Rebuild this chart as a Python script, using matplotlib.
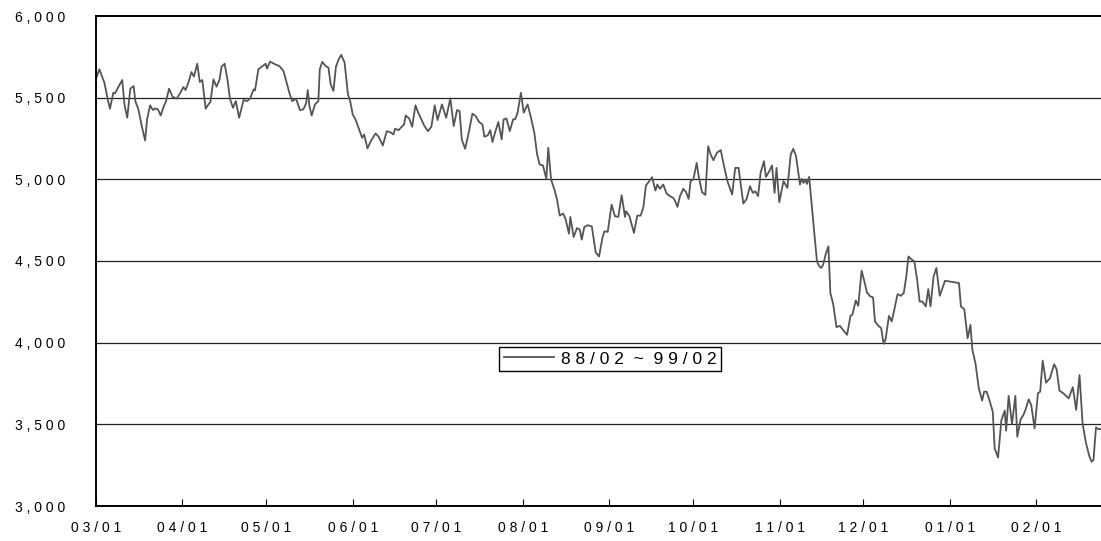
import matplotlib
import matplotlib.pyplot as plt
import pandas as pd

matplotlib.use("Agg")

# day offsets from 03/01 and index values
days = [
    0.0, 1.2, 3.0, 4.2, 5.0, 6.2, 6.8, 8.2, 9.4, 10.2, 11.2, 12.3, 13.5, 14.1, 15.2,
    16.4, 17.6, 18.3, 19.4, 20.4, 21.1, 22.2, 23.2, 24.1, 25.1, 26.2, 27.4, 28.9,
    30.1, 31.3, 32.1, 33.1, 34.2, 35.1, 36.3, 37.2, 38.1, 39.3, 40.3, 41.0, 42.1,
    43.2, 44.3, 45.0, 46.1, 47.2, 48.0, 49.1, 50.1, 51.3, 52.9, 54.1, 55.2, 56.5,
    57.0, 58.2, 59.4, 60.8, 61.3, 62.4, 64.2,
    65.7, 67.2, 68.3, 69.3, 70.3, 71.7, 73.1, 74.3, 75.3, 75.9, 76.5, 77.3, 78.5,
    79.7, 80.2, 81.1, 82.3, 83.3, 84.1, 85.1, 86.0, 87.0, 87.9, 89.1, 90.3, 91.1,
    92.0, 93.0, 94.2, 95.4, 96.1, 97.3, 98.5, 100.2, 101.3, 102.8, 104.2, 105.4,
    106.6, 107.2, 108.4, 109.6, 110.4, 111.0, 112.3, 113.3, 114.5, 115.4, 117.6,
    119.0, 120.2, 121.4, 122.4, 124.0, 125.5,
    127.0, 128.2, 129.4, 130.3, 131.1, 132.3, 133.7, 134.9, 136.1, 137.3, 138.5,
    139.2, 140.4, 141.3, 142.1, 143.0, 144.2, 145.4, 146.1, 147.1, 148.3, 149.5,
    150.2, 151.1, 152.3, 153.3, 154.7, 155.9, 157.1, 158.1, 159.0, 160.2, 161.4,
    162.1, 163.1, 164.3, 165.2, 166.2, 167.4, 168.3, 169.5, 170.0, 171.2, 172.4,
    173.4, 174.1, 175.0, 176.2, 177.7, 179.1, 180.3, 181.5, 182.2, 183.4, 184.8,
    186.0, 187.2, 188.4, 189.6,
    190.0, 191.2, 192.0, 192.8, 194.0, 195.2, 196.2, 197.1, 198.3, 199.3, 200.5,
    201.2, 202.1, 203.3, 204.5, 205.7, 206.9, 207.6, 208.4, 209.3, 210.5, 211.5,
    212.4, 213.1, 214.1, 215.3, 216.0, 217.2, 218.4, 219.4, 220.3, 221.3, 222.5,
    223.9, 225.1, 226.3, 228.0, 229.1, 230.3, 232.0, 233.2, 234.4, 235.4, 236.3,
    237.3, 238.2, 239.4, 240.1, 241.3, 242.3, 243.2, 243.9, 244.9, 246.4, 247.8,
    249.0, 249.9, 250.9, 252.3,
    252.9, 253.6, 254.4, 254.8, 255.6, 256.5, 257.5, 258.4, 259.1, 259.9, 260.6,
    261.5, 262.5, 263.2, 264.2, 265.4, 266.6, 267.7, 269.2, 270.4, 271.1, 272.3,
    273.2, 274.4, 275.6, 276.3, 277.5, 278.5, 279.2, 280.4, 281.4, 282.3, 283.0,
    284.2, 285.2, 286.4, 287.3, 288.5, 289.5, 290.4, 291.2, 292.4, 293.3, 294.3,
    295.2, 296.2, 297.4, 298.3, 299.1, 300.2, 301.2, 302.4, 304.3, 309.3, 310.0,
    311.2, 312.4, 313.4, 314.1,
    315.2, 316.4, 317.6, 318.3, 319.2, 320.2, 321.4, 322.1, 323.3, 324.5, 325.7,
    326.2, 327.1, 328.3, 329.5, 330.2, 331.4, 332.4, 333.1, 334.3, 335.2, 336.4,
    337.6, 338.4, 339.3, 340.5, 341.9, 343.4, 344.3, 345.3, 346.7, 347.9, 348.6,
    350.1, 351.3, 352.5, 353.6, 354.8, 356.0, 356.8, 357.5, 358.4, 359.4, 360.2,
]
values = [
    5616, 5674, 5592, 5490, 5432, 5530, 5526, 5571, 5608, 5459, 5377, 5555, 5571, 5479, 5428,
    5326, 5238, 5367, 5453, 5424, 5434, 5428, 5391, 5438, 5479, 5555, 5506, 5494,
    5526, 5565, 5547, 5592, 5657, 5629, 5708, 5596, 5608, 5432, 5459, 5473, 5612,
    5567, 5612, 5690, 5708, 5602, 5494, 5438, 5479, 5377, 5486, 5479, 5494, 5551,
    5545, 5674, 5690, 5708, 5678, 5721, 5704,
    5694, 5663, 5592, 5530, 5479, 5494, 5424, 5428, 5465, 5547, 5449, 5391, 5459,
    5479, 5674, 5719, 5694, 5684, 5582, 5541, 5690, 5735, 5762, 5714, 5520, 5479,
    5398, 5367, 5310, 5254, 5275, 5189, 5234, 5281, 5261, 5207, 5295, 5289,
    5275, 5310, 5301, 5322, 5336, 5391, 5371, 5322, 5453, 5412, 5330,
    5295, 5322, 5453, 5363, 5459, 5377,
    5496, 5326, 5424, 5418, 5244, 5187, 5295, 5402, 5387, 5351, 5336,
    5261, 5269, 5301, 5228, 5285, 5351, 5244, 5367, 5373, 5295, 5367,
    5367, 5408, 5530, 5408, 5459, 5377, 5285, 5152, 5091, 5085, 5003,
    5193, 4999, 4937, 4880, 4778, 4790, 4757, 4667, 4770, 4647, 4702,
    4692, 4631, 4708, 4719, 4712, 4553, 4528, 4641, 4682, 4678, 4845,
    4774, 4770, 4903, 4770,
    4805, 4774, 4723, 4672, 4778, 4778, 4831, 4962, 4989, 5013, 4931,
    4968, 4942, 4968, 4913, 4897, 4886, 4866, 4831, 4897, 4942, 4921,
    4880, 4989, 4999, 5101, 5019, 4921, 4905, 5203, 5152, 5117, 5162,
    5179, 5081, 4989, 4907, 5070, 5070, 4852, 4880, 4958, 4917, 4927,
    4897, 5040, 5111, 5015, 5050, 5085, 4917, 5070, 4860, 4989, 4948,
    5152, 5187, 5142, 4968,
    5003, 4978, 4999, 4972, 5015, 4845, 4661, 4498, 4471, 4457, 4477,
    4539, 4590, 4304, 4238, 4095, 4103, 4079, 4048, 4164, 4171, 4258,
    4226, 4441, 4361, 4308, 4283, 4277, 4130, 4103, 4089, 3993, 4021,
    4164, 4130, 4226, 4297, 4287, 4304, 4402, 4528, 4508, 4498, 4385,
    4252, 4252, 4222, 4328, 4222, 4406, 4457, 4287, 4379, 4365, 4222,
    4205, 4027, 4109, 3956,
    3874, 3721, 3645, 3700, 3700, 3649, 3578, 3353, 3297, 3526, 3584,
    3461, 3674, 3502, 3674, 3424, 3531, 3557, 3588, 3653, 3618, 3475,
    3690, 3700, 3890, 3755, 3782, 3868, 3837, 3706, 3690, 3670, 3659,
    3727, 3588, 3802, 3506, 3387, 3306, 3271, 3281, 3481, 3469, 3473,
]
month_labels = ["03/01", "04/01", "05/01", "06/01", "07/01", "08/01",
                "09/01", "10/01", "11/01", "12/01", "01/01", "02/01"]
y_ticks = [3000, 3500, 4000, 4500, 5000, 5500, 6000]
series_start, series_end = "88/02", "99/02"

start = pd.Timestamp("1998-03-01")
dates = start + pd.to_timedelta(days, unit="D")
month_starts = pd.date_range(start, periods=len(month_labels), freq="MS")


def spaced(text):
    # the original labels are drawn with wide letter spacing
    return " ".join(text)


plt.rcParams["font.family"] = ["Liberation Sans", "DejaVu Sans"]

fig = plt.figure(figsize=(11.01, 5.41), dpi=100)
ax = fig.add_axes([96 / 1101, 1 - 506 / 541, 1 - 96 / 1101, 490 / 541])

legend_text = f"{spaced(series_start)}  ~  {spaced(series_end)}"
ax.plot(dates, values, color="#555555", linewidth=1.3, label=legend_text)

ax.set_ylim(3000, 6000)
ax.set_xlim(start, start + pd.Timedelta(days=360.2))
ax.set_yticks(y_ticks)
ax.set_yticklabels([spaced(f"{v:,}") for v in y_ticks], fontsize=10)
ax.set_xticks(month_starts)
ax.set_xticklabels([spaced(s) for s in month_labels], fontsize=10)

ax.tick_params(axis="y", length=0, pad=22)
ax.tick_params(axis="x", direction="in", length=5, width=0.8, pad=11)

for v in y_ticks[1:-1]:
    ax.axhline(v, color="#222222", linewidth=0.9, zorder=0)

for side in ["left", "bottom", "top"]:
    ax.spines[side].set_linewidth(1.4)
    ax.spines[side].set_color("black")
ax.spines["right"].set_visible(False)

leg = ax.legend(
    loc="center", bbox_to_anchor=(0.5115, 0.300),
    fontsize=12.5, frameon=True, fancybox=False, framealpha=1,
    edgecolor="black", borderpad=0.25, handlelength=2.9,
    handletextpad=0.4, borderaxespad=0,
)
leg.get_frame().set_linewidth(1.0)

fig.savefig("out.png", dpi=100)
plt.close(fig)
